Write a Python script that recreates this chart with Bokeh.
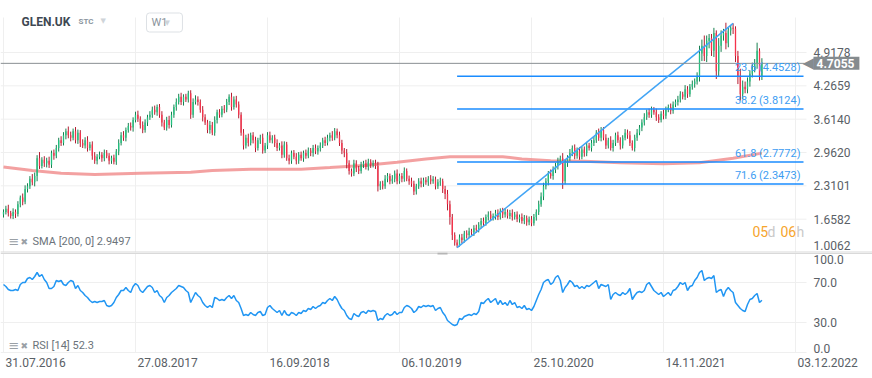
from bokeh.plotting import figure
from bokeh.models import Range1d, Label, ColumnDataSource
from bokeh.layouts import column
from bokeh.embed import file_html
from bokeh.resources import INLINE

# ---------------- data ----------------
symbol = "GLEN.UK"
date_labels = ["31.07.2016", "27.08.2017", "16.09.2018", "06.10.2019", "25.10.2020", "14.11.2021", "03.12.2022"]
date_weeks = [0, 55, 110, 165, 220, 275, 330]
price_ticks = [4.9178, 4.2659, 3.6140, 2.9620, 2.3101, 1.6582, 1.0062]
rsi_ticks = [100.0, 70.0, 30.0, 0.0]

open_first = 1.75
closes = [
    1.80, 1.86, 1.78, 1.72, 1.80, 1.76, 1.95, 2.08, 2.00, 2.25,
    2.30, 2.45, 2.38, 2.50, 2.85, 2.70, 2.82, 2.75, 2.80, 2.72,
    2.95, 2.90, 3.05, 3.20, 3.15, 3.30, 3.38, 3.30, 3.25, 3.38,
    3.20, 3.35, 3.15, 3.10, 3.20, 3.05, 3.12, 2.90, 2.80, 2.88,
    2.92, 2.85, 2.95, 2.90, 2.80, 2.86, 2.78, 2.98, 3.15, 3.30,
    3.25, 3.40, 3.48, 3.45, 3.60, 3.70, 3.62, 3.50, 3.40, 3.55,
    3.65, 3.70, 3.80, 3.75, 3.85, 3.70, 3.55, 3.45, 3.60, 3.50,
    3.70, 3.85, 3.95, 4.05, 3.95, 4.05, 4.00, 4.12, 3.70, 3.95,
    4.00, 3.95, 3.80, 3.65, 3.55, 3.40, 3.50, 3.35, 3.60, 3.75,
    3.70, 3.82, 3.80, 3.95, 4.05, 3.85, 4.00, 3.90, 3.70, 3.35,
    3.10, 3.25, 3.15, 3.30, 3.20, 3.05, 3.20, 3.25, 3.00, 3.10,
    3.30, 3.20, 3.25, 3.15, 3.05, 3.10, 2.92, 3.12, 2.85, 2.80,
    2.95, 2.88, 2.80, 2.92, 2.85, 2.95, 2.90, 3.00, 2.95, 3.05,
    2.98, 3.05, 3.10, 3.20, 3.15, 3.25, 3.30, 3.25, 3.38, 3.30,
    3.15, 3.00, 2.95, 2.75, 2.60, 2.55, 2.75, 2.65, 2.60, 2.72,
    2.75, 2.68, 2.78, 2.72, 2.75, 2.70, 2.30, 2.35, 2.30, 2.45,
    2.50, 2.40, 2.45, 2.55, 2.40, 2.50, 2.45, 2.60, 2.45, 2.40,
    2.35, 2.20, 2.30, 2.40, 2.35, 2.42, 2.38, 2.45, 2.40, 2.44,
    2.30, 2.38, 2.40, 2.25, 2.15, 1.95, 1.70, 1.35, 1.20, 1.15,
    1.30, 1.25, 1.38, 1.35, 1.42, 1.40, 1.48, 1.45, 1.55, 1.62,
    1.58, 1.70, 1.75, 1.68, 1.72, 1.78, 1.70, 1.82, 1.75, 1.80,
    1.72, 1.78, 1.70, 1.75, 1.66, 1.70, 1.62, 1.68, 1.60, 1.65,
    1.58, 1.70, 1.80, 1.95, 2.10, 2.30, 2.40, 2.55, 2.50, 2.62,
    2.70, 2.78, 2.85, 2.40, 2.75, 2.85, 2.95, 3.05, 2.90, 3.00,
    2.88, 3.02, 2.95, 3.10, 3.05, 3.15, 3.20, 3.35, 3.25, 3.40,
    3.25, 3.10, 3.20, 3.05, 3.15, 3.30, 3.20, 3.10, 3.25, 3.35,
    3.30, 3.15, 3.05, 3.25, 3.35, 3.45, 3.55, 3.65, 3.75, 3.70,
    3.80, 3.75, 3.65, 3.60, 3.72, 3.68, 3.80, 3.85, 3.78, 3.90,
    3.95, 4.00, 4.10, 4.05, 4.20, 4.10, 4.25, 4.30, 4.35, 4.45,
    4.90, 5.05, 4.85, 5.15, 5.20, 4.95, 5.30, 4.55, 5.05, 5.25,
    5.30, 5.10, 5.35, 5.40, 5.38, 4.85, 4.45, 4.10, 4.25, 4.20,
    4.35, 4.50, 4.62, 4.70, 4.95, 4.45, 4.7055,
]
up_wick = [
    .05, .06, .08, .04, .07, .05, .06, .04, .08, .07,
    .06, .05, .09, .07, .06, .12, .05, .07, .06, .08,
    .05, .07, .06, .05, .08, .06, .05, .09, .07, .05,
    .08, .06, .05, .07, .06, .08, .05, .06, .07, .05,
    .06, .05, .07, .06, .05, .04, .06, .05, .07, .06,
    .08, .05, .06, .07, .05, .06, .08, .05, .07, .06,
    .05, .07, .06, .08, .05, .06, .07, .05, .06, .08,
    .06, .05, .07, .06, .08, .05, .06, .05, .06, .07,
    .08, .06, .05, .07, .06, .05, .08, .06, .07, .05,
    .06, .05, .07, .06, .05, .08, .06, .07, .06, .05,
    .07, .06, .08, .05, .06, .07, .05, .06, .08, .05,
    .06, .07, .05, .06, .07, .05, .08, .06, .05, .07,
    .05, .06, .07, .05, .06, .05, .07, .06, .05, .06,
    .07, .05, .06, .05, .07, .06, .05, .08, .06, .05,
    .07, .06, .05, .08, .06, .05, .07, .06, .05, .06,
    .05, .07, .06, .05, .06, .07, .08, .05, .06, .07,
    .06, .05, .07, .06, .08, .05, .06, .07, .05, .06,
    .07, .06, .05, .06, .07, .05, .06, .05, .07, .06,
    .05, .06, .07, .05, .06, .08, .07, .06, .05, .06,
    .06, .07, .05, .06, .07, .05, .06, .07, .05, .06,
    .07, .05, .06, .07, .05, .06, .07, .05, .06, .07,
    .05, .06, .07, .05, .06, .05, .07, .06, .05, .06,
    .07, .06, .05, .07, .08, .07, .06, .05, .08, .07,
    .06, .08, .05, .10, .07, .06, .08, .05, .07, .06,
    .07, .05, .06, .07, .05, .06, .07, .05, .08, .06,
    .06, .07, .05, .08, .06, .05, .07, .06, .05, .07,
    .06, .08, .05, .06, .07, .05, .06, .08, .05, .07,
    .06, .05, .07, .06, .05, .08, .06, .05, .07, .06,
    .05, .07, .06, .05, .08, .06, .05, .07, .06, .08,
    .15, .12, .20, .10, .08, .08, .10, .05, .15, .10,
    .08, .20, .05, .05, .088, .05, .10, .15, .12, .10,
    .08, .07, .10, .09, .16, .05, .10,
]
down_wick = [
    .06, .05, .07, .05, .06, .08, .05, .06, .07, .05,
    .07, .05, .06, .08, .10, .06, .05, .07, .08, .06,
    .06, .08, .05, .07, .06, .05, .08, .06, .07, .05,
    .06, .07, .08, .05, .06, .07, .05, .08, .06, .07,
    .05, .07, .06, .05, .07, .06, .05, .06, .07, .05,
    .06, .07, .05, .06, .08, .05, .06, .07, .06, .05,
    .07, .05, .06, .05, .07, .06, .08, .05, .06, .07,
    .05, .06, .07, .05, .06, .07, .05, .06, .08, .06,
    .05, .07, .06, .08, .05, .06, .07, .05, .06, .07,
    .06, .05, .07, .05, .06, .07, .05, .06, .07, .06,
    .08, .06, .07, .05, .06, .08, .05, .07, .06, .05,
    .07, .05, .06, .08, .06, .05, .07, .06, .05, .07,
    .06, .05, .07, .06, .05, .07, .06, .05, .06, .07,
    .05, .06, .07, .05, .06, .05, .07, .06, .05, .06,
    .06, .07, .08, .10, .07, .06, .05, .07, .06, .05,
    .06, .05, .07, .06, .05, .06, .10, .07, .06, .05,
    .07, .06, .05, .07, .06, .05, .07, .06, .05, .07,
    .06, .07, .06, .05, .07, .06, .05, .07, .06, .05,
    .06, .05, .07, .08, .10, .12, .15, .10, .06, .0484,
    .03, .06, .05, .07, .06, .05, .07, .06, .05, .07,
    .06, .05, .07, .06, .05, .07, .06, .05, .07, .06,
    .05, .06, .07, .05, .06, .07, .05, .06, .07, .06,
    .06, .05, .07, .06, .05, .07, .06, .08, .05, .07,
    .06, .07, .05, .15, .06, .07, .05, .06, .07, .06,
    .06, .05, .07, .06, .05, .07, .06, .05, .06, .07,
    .05, .07, .06, .05, .07, .06, .05, .08, .06, .05,
    .07, .06, .05, .07, .06, .05, .07, .06, .05, .06,
    .06, .05, .07, .06, .05, .07, .06, .05, .07, .06,
    .05, .07, .06, .05, .06, .07, .05, .06, .07, .06,
    .10, .15, .10, .12, .15, .10, .12, .15, .10, .12,
    .10, .12, .08, .10, .10, .12, .15, .12, .10, .08,
    .08, .10, .07, .09, .10, .08, .07,
]
rsi_values = [
    68, 66, 63, 62, 62, 63, 62, 68, 70, 70,
    74, 75, 73, 76, 80, 76, 78, 73, 70, 64,
    64, 66, 72, 71, 72, 68, 67, 70, 72, 71,
    64, 67, 62, 60, 57, 55, 52, 50, 51, 50,
    51, 51, 52, 47, 46, 47, 50, 55, 58, 62,
    62, 65, 62, 60, 66, 69, 67, 62, 60, 63,
    66, 67, 65, 60, 62, 57, 55, 50, 55, 57,
    60, 62, 64, 67, 66, 65, 62, 60, 50, 55,
    60, 57, 55, 50, 47, 45, 47, 45, 55, 54,
    52, 53, 52, 55, 57, 54, 57, 52, 50, 44,
    37, 38, 37, 40, 38, 37, 40, 41, 37, 38,
    45, 47, 44, 42, 40, 42, 37, 42, 38, 37,
    40, 39, 37, 40, 39, 42, 41, 44, 43, 46,
    44, 46, 47, 50, 49, 52, 54, 52, 56, 53,
    48, 44, 42, 37, 34, 33, 39, 37, 36, 40,
    41, 39, 42, 41, 42, 41, 32, 34, 33, 37,
    39, 37, 38, 41, 38, 40, 40, 45, 47, 46,
    44, 40, 42, 46, 45, 47, 46, 47, 46, 47,
    42, 44, 45, 40, 37, 32, 30, 28, 27, 28,
    34, 33, 36, 37, 38, 37, 39, 38, 41, 50,
    49, 52, 54, 50, 52, 54, 48, 52, 48, 50,
    47, 52, 48, 50, 45, 46, 44, 47, 43, 44,
    42, 46, 52, 58, 63, 70, 72, 73, 68, 70,
    75, 77, 72, 60, 65, 68, 72, 70, 66, 67,
    64, 66, 64, 67, 66, 68, 70, 72, 64, 68,
    67, 66, 68, 53, 58, 60, 58, 57, 60, 58,
    60, 64, 53, 57, 60, 61, 60, 62, 68, 70,
    66, 62, 60, 58, 60, 56, 58, 60, 57, 62,
    63, 66, 70, 68, 70, 62, 66, 67, 72, 75,
    80, 82, 72, 74, 75, 74, 77, 60, 62, 63,
    56, 62, 65, 62, 60, 50, 47, 44, 42, 41,
    48, 53, 54, 57, 59, 50, 52.3,
]
sma_weeks = [0, 12, 24, 38, 57, 78, 87, 103, 124, 136, 150, 164, 176, 186, 208, 216, 228, 242, 257, 275, 290, 304, 316]
sma_values = [2.68, 2.61, 2.556, 2.53, 2.556, 2.575, 2.608, 2.634, 2.634, 2.667, 2.71, 2.77, 2.836, 2.88, 2.88,
              2.836, 2.80, 2.79, 2.76, 2.74, 2.76, 2.85, 2.9497]
fib_ratios = [23.6, 38.2, 61.8, 71.6]
low_week = 189
high_week = 304

# ---------------- derived ----------------
n = len(closes)
weeks = list(range(n))
opens = [open_first] + closes[:-1]
highs = [max(o, c) + u for o, c, u in zip(opens, closes, up_wick)]
lows = [min(o, c) - d for o, c, d in zip(opens, closes, down_wick)]
L = lows[low_week]
H = highs[high_week]
fib_levels = [H - r / 100.0 * (H - L) for r in fib_ratios]

def split(bull):
    d = dict(x=[], top=[], bottom=[], hi=[], lo=[])
    for w, o, c, h, l in zip(weeks, opens, closes, highs, lows):
        if (c >= o) == bull:
            d["x"].append(w); d["top"].append(max(o, c)); d["bottom"].append(min(o, c))
            d["hi"].append(h); d["lo"].append(l)
    return ColumnDataSource(d)

# pixel helpers (page px -> data) for placing furniture
PX_PER_WEEK = 2.4
PX_PER_UNIT = 51.13
def ix(px): return (px - 3) / PX_PER_WEEK
def py(px): return price_ticks[-1] + (252 - px) / PX_PER_UNIT
def ry(px): return 352 - px

FONT = "Roboto"
GRID = "#efefef"
LABEL_C = "#5a6066"
PLOT_RIGHT = ix(806)

def lab(fig, x, y, text, size="12px", color=LABEL_C, align="left", font=FONT, style="normal", **kw):
    fig.add_layout(Label(x=x, y=y, text=text, text_font=font, text_font_size=size, text_color=color,
                         text_align=align, text_baseline="middle", text_font_style=style, **kw))

common = dict(frame_width=872, x_range=Range1d(ix(0), ix(872)), output_backend="svg", toolbar_location=None,
              x_axis_location=None, y_axis_location=None, min_border=0, outline_line_color=None)

# ---------------- main panel ----------------
p = figure(frame_height=252, y_range=Range1d(py(252), py(0)), **common)
p.xgrid.visible = False
p.ygrid.visible = False
# grid
p.segment(x0=date_weeks, y0=[py(252)] * len(date_weeks), x1=date_weeks, y1=[py(17)] * len(date_weeks),
          line_color=GRID, line_width=1)
p.segment(x0=[ix(0)] * 6, y0=price_ticks[:-1], x1=[PLOT_RIGHT] * 6, y1=price_ticks[:-1],
          line_color=GRID, line_width=1)
p.segment(x0=[ix(0)], y0=[py(251.5)], x1=[ix(872)], y1=[py(251.5)], line_color="#d9d9d9", line_width=1)
# price labels
for t in price_ticks[:-1]:
    lab(p, ix(813), t, "%.4f" % t)
lab(p, ix(813), py(244.5), "%.4f" % price_ticks[-1])

# SMA 200
p.line(sma_weeks, sma_values, line_color="#f08a8a", line_width=3, line_alpha=0.8)

# candles
bull = split(True)
bear = split(False)
p.segment(x0="x", y0="lo", x1="x", y1="hi", source=bull, line_color="#17804f", line_width=1)
p.segment(x0="x", y0="lo", x1="x", y1="hi", source=bear, line_color="#b31d31", line_width=1)
p.vbar(x="x", width=0.55, top="top", bottom="bottom", source=bull, fill_color="#22c07e", line_color=None)
p.vbar(x="x", width=0.55, top="top", bottom="bottom", source=bear, fill_color="#f5334b", line_color=None)

# fibonacci levels + trend line
fib_end = ix(803)
for rr, lv in zip(fib_ratios, fib_levels):
    p.segment(x0=[low_week], y0=[lv], x1=[fib_end], y1=[lv], line_color="#1a8cff", line_width=1.5)
    lab(p, ix(800), lv + 8.5 / PX_PER_UNIT, "%.1f (%.4f)" % (rr, lv), size="11px", color="#3d9df2", align="right")
p.line([low_week, high_week], [L, H], line_color="#42a5f5", line_width=1.5)

# current price line + tag
last = closes[-1]
p.segment(x0=[ix(0)], y0=[last], x1=[ix(804)], y1=[last], line_color="#8a8f93", line_width=1)
lab(p, ix(802), last, "\u25c0", size="15px", color="#858b8f", font="DejaVu Sans")
p.add_layout(Label(x=ix(813), y=last, text="%.4f" % last, text_color="white", text_font=FONT,
                   text_font_style="bold", text_font_size="12px", text_baseline="middle",
                   background_fill_color="#858b8f", padding=dict(left=3, right=5, top=2, bottom=2)))

# header
lab(p, ix(21), py(21), symbol, style="bold", color="#3e4852")
lab(p, ix(78), py(21), "STC", size="8px", style="bold", color="#8b959e")
lab(p, ix(100), py(20), "\u25bc", size="7px", color="#cfd4d9", font="DejaVu Sans")
p.add_layout(Label(x=ix(146), y=py(22), text="W1", text_font=FONT, text_font_size="11px",
                   text_color="#8a949c", text_baseline="middle", background_fill_color="white",
                   border_line_color="#dde1e5", border_radius=3, padding=dict(left=5, right=15, top=3, bottom=3)))
lab(p, ix(164), py(22), "\u25bc", size="7px", color="#cfd4d9", font="DejaVu Sans")

# SMA legend
lab(p, ix(8), py(241), "\u2261", size="13px", color="#9aa0a6", font="DejaVu Sans")
lab(p, ix(20), py(241), "\u2716", size="9px", color="#9aa0a6", font="DejaVu Sans")
lab(p, ix(32), py(241), "SMA  [200,  0]  %.4f" % sma_values[-1], size="11px", color="#6b737a")

# countdown
for txt, xpx, col in [("05", 752, "#f6a52d"), ("d", 767, "#c9c9c9"), ("06", 780, "#f6a52d"), ("h", 796, "#c9c9c9")]:
    lab(p, ix(xpx), py(231), txt, size="14px", color=col)

# ---------------- RSI panel ----------------
r = figure(frame_height=118, y_range=Range1d(ry(370), ry(252)), **common)
r.xgrid.visible = False
r.ygrid.visible = False
r.segment(x0=date_weeks, y0=[0] * len(date_weeks), x1=date_weeks, y1=[100] * len(date_weeks),
          line_color=GRID, line_width=1)
r.segment(x0=[ix(0)] * 3, y0=[70.0, 30.0, 0.0], x1=[PLOT_RIGHT] * 3, y1=[70.0, 30.0, 0.0],
          line_color=GRID, line_width=1)
r.segment(x0=[ix(0)], y0=[ry(252.5)], x1=[ix(872)], y1=[ry(252.5)], line_color="#d9d9d9", line_width=2)
r.quad(left=[ix(437)], right=[ix(447)], top=[ry(252)], bottom=[ry(254)], fill_color="#b5b5b5", line_color=None)

lab(r, ix(813), ry(259), "%.1f" % rsi_ticks[0])
lab(r, ix(813), rsi_ticks[1], "%.1f" % rsi_ticks[1])
lab(r, ix(813), rsi_ticks[2], "%.1f" % rsi_ticks[2])
lab(r, ix(813), ry(348), "%.1f" % rsi_ticks[3])

r.line(weeks, rsi_values, line_color="#2196f3", line_width=1.5)

lab(r, ix(8), ry(345), "\u2261", size="13px", color="#9aa0a6", font="DejaVu Sans")
lab(r, ix(20), ry(345), "\u2716", size="9px", color="#9aa0a6", font="DejaVu Sans")
lab(r, ix(32), ry(345), "RSI  [14]  %.1f" % rsi_values[-1], size="11px", color="#6b737a")

for w, t in zip(date_weeks, date_labels):
    lab(r, w + 2 / PX_PER_WEEK, ry(362), t)

layout = column(p, r, spacing=0)
open("out.html", "w").write(file_html(layout, INLINE))
